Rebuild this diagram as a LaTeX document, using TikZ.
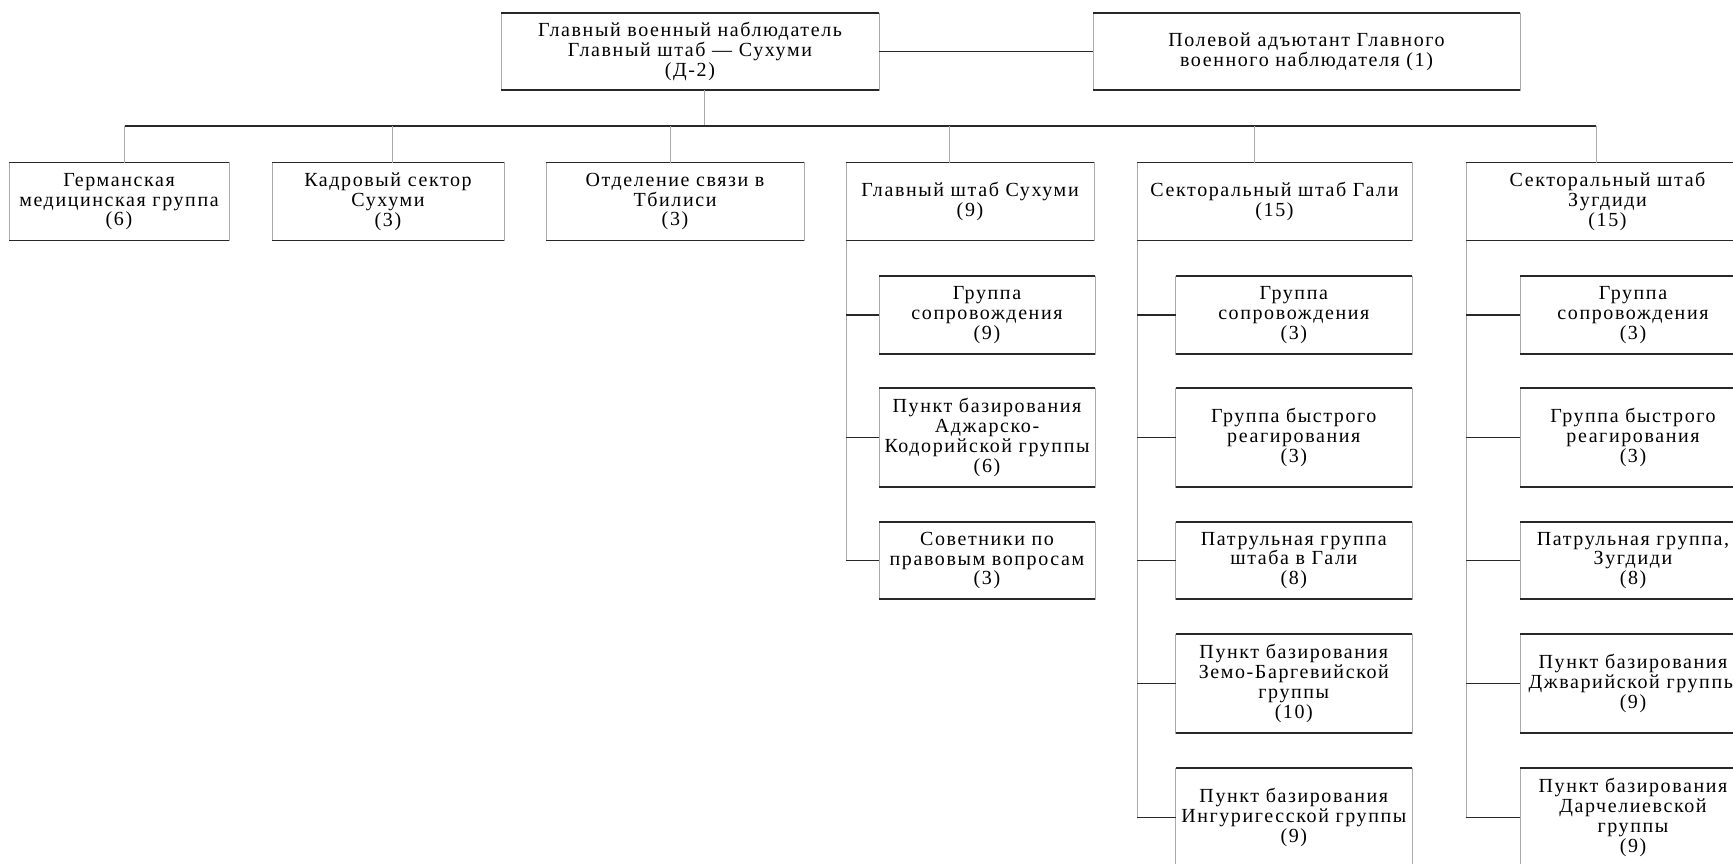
\documentclass[tikz,border=0pt]{standalone}
\usepackage{fontspec}
\setmainfont[LetterSpace=8.0]{Liberation Serif}
\usepackage{xcolor}
\definecolor{rul}{RGB}{40, 40, 40}
\definecolor{sid}{RGB}{170, 170, 170}

\tikzset{
  box/.style={draw=sid, line width=0.8pt, outer sep=0pt, inner sep=2pt, align=center},
  hl/.style={draw=rul, line width=1.2pt},
  vl/.style={draw=sid, line width=0.8pt}
}

\begin{document}
\begin{tikzpicture}[x=1pt, y=-1pt, font=\fontsize{20}{19.8}\selectfont]
      \useasboundingbox (0, 0) rectangle (1733, 863);
      \fill[white] (0, 0) rectangle (1733, 863);
      \clip (0, 0) rectangle (1733, 863);

      % top level
      \node[box, minimum width=378pt, minimum height=77pt] (top) at (690, 51.5) {Главный военный наблюдатель\\Главный штаб — Сухуми\\(Д-2)};
      \node[box, minimum width=427pt, minimum height=77pt] (aide) at (1306.5, 51.5) {Полевой адъютант Главного\\военного наблюдателя (1)};

      % second level
      \node[box, minimum width=220pt, minimum height=78pt] (b1) at (119, 201.7) {Германская\\медицинская группа\\(6)};
      \node[box, minimum width=232pt, minimum height=78pt] (b2) at (388, 201.7) {Кадровый сектор\\Сухуми\\(3)};
      \node[box, minimum width=258pt, minimum height=78pt] (b3) at (675, 201.7) {Отделение связи в\\Тбилиси\\(3)};
      \node[box, minimum width=248pt, minimum height=78pt] (b4) at (970, 201.7) {Главный штаб Сухуми\\(9)};
      \node[box, minimum width=275pt, minimum height=78pt] (b5) at (1274.5, 201.7) {Секторальный штаб Гали\\(15)};
      \node[box, minimum width=283pt, minimum height=78pt] (b6) at (1607.5, 201.7) {Секторальный штаб\\Зугдиди\\(15)};

      % Sukhumi column
      \node[box, minimum width=216pt, minimum height=78pt] (c41) at (987, 314.9) {Группа\\сопровождения\\(9)};
      \node[box, minimum width=216pt, minimum height=99pt] (c42) at (987, 437.5) {Пункт базирования\\Аджарско-\\Кодорийской группы\\(6)};
      \node[box, minimum width=216pt, minimum height=77pt] (c43) at (987, 560.5) {Советники по\\правовым вопросам\\(3)};

      % Gali column
      \node[box, minimum width=236.5pt, minimum height=78pt] (c51) at (1293.8, 314.9) {Группа\\сопровождения\\(3)};
      \node[box, minimum width=236.5pt, minimum height=99pt] (c52) at (1293.8, 437.5) {Группа быстрого\\реагирования\\(3)};
      \node[box, minimum width=236.5pt, minimum height=77pt] (c53) at (1293.8, 560.5) {Патрульная группа\\штаба в Гали\\(8)};
      \node[box, minimum width=236.5pt, minimum height=99pt] (c54) at (1293.8, 683.5) {Пункт базирования\\Земо-Баргевийской\\группы\\(10)};
      \node[box, minimum width=236.5pt, minimum height=99pt] (c55) at (1293.8, 817.5) {Пункт базирования\\Ингуригесской группы\\(9)};

      % Zugdidi column
      \node[box, minimum width=226pt, minimum height=78pt] (c61) at (1633, 314.9) {Группа\\сопровождения\\(3)};
      \node[box, minimum width=226pt, minimum height=99pt] (c62) at (1633, 437.5) {Группа быстрого\\реагирования\\(3)};
      \node[box, minimum width=226pt, minimum height=77pt] (c63) at (1633, 560.5) {Патрульная группа,\\Зугдиди\\(8)};
      \node[box, minimum width=226pt, minimum height=99pt] (c64) at (1633, 683.5) {Пункт базирования\\Джварийской группы\\(9)};
      \node[box, minimum width=226pt, minimum height=99pt] (c65) at (1633, 817.5) {Пункт базирования\\Дарчелиевской\\группы\\(9)};

      % dark top and bottom edges
      \foreach \n in {top, aide, b1, b2, b3, b4, b5, b6, c41, c42, c43, c51, c52, c53, c54, c55, c61, c62, c63, c64, c65}
        \draw[hl] (\n.north west) -- (\n.north east) (\n.south west) -- (\n.south east);

      % bus and drops
      \coordinate (t0) at (704, 126);
      \coordinate (d1) at (124.6, 126);
      \coordinate (d2) at (392, 126);
      \coordinate (d3) at (670.6, 126);
      \coordinate (d4) at (949.6, 126);
      \coordinate (d5) at (1254.6, 126);
      \coordinate (d6) at (1596, 126);
      \draw[hl] (top.east) -- (aide.west);
      \draw[vl] (t0 |- top.south) -- (t0);
      \draw[hl] (d1) -- (d6);
      \draw[vl] (d1) -- (d1 |- b1.north);
      \draw[vl] (d2) -- (d2 |- b2.north);
      \draw[vl] (d3) -- (d3 |- b3.north);
      \draw[vl] (d4) -- (d4 |- b4.north);
      \draw[vl] (d5) -- (d5 |- b5.north);
      \draw[vl] (d6) -- (d6 |- b6.north);

      % spines
      \draw[vl] (b4.south west) -- (b4.south west |- c43.west);
      \draw[vl] (b5.south west) -- (b5.south west |- c55.west);
      \draw[vl] (b6.south west) -- (b6.south west |- c65.west);
      \foreach \c in {c41, c42, c43}
        \draw[hl] (b4.south west |- \c.west) -- (\c.west);
      \foreach \c in {c51, c52, c53, c54, c55}
        \draw[hl] (b5.south west |- \c.west) -- (\c.west);
      \foreach \c in {c61, c62, c63, c64, c65}
        \draw[hl] (b6.south west |- \c.west) -- (\c.west);
\end{tikzpicture}
\end{document}
